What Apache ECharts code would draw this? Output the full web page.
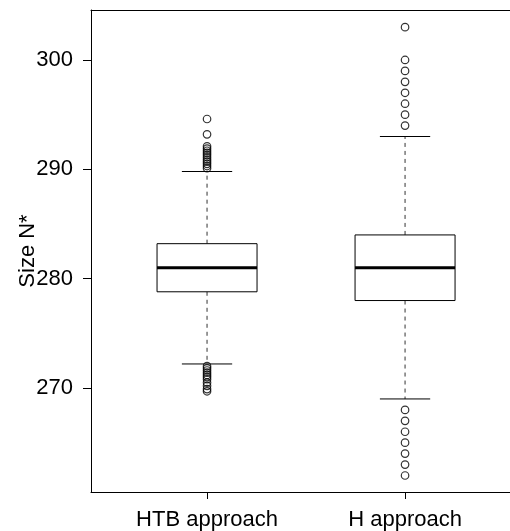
<!DOCTYPE html>
<html>
<head>
<meta charset="utf-8">
<script src="https://cdn.jsdelivr.net/npm/echarts@6/dist/echarts.min.js"></script>
<style>html,body{margin:0;padding:0;background:#fff}#c{width:510px;height:531px}</style>
</head>
<body>
<div id="c"></div>
<script>
var categories = ['HTB approach', 'H approach'];
// [lower whisker, Q1, median, Q3, upper whisker]
var htbStats = [272.2, 278.8, 281.0, 283.2, 289.8];
var hStats = [269, 278, 281, 284, 293];
var htbOutliers = [294.6, 293.2, 292.1, 291.9, 291.7, 291.5, 291.3, 291.1, 290.9, 290.7, 290.5, 290.3, 290.1,
  272.0, 271.8, 271.6, 271.4, 271.2, 271.0, 270.8, 270.5, 270.2, 269.9, 269.7];
var hOutliers = [303, 300, 299, 298, 297, 296, 295, 294, 268, 267, 266, 265, 264, 263, 262];
var yTicks = [270, 280, 290, 300];

var boxData = [[1].concat(htbStats), [2].concat(hStats)];
var outData = htbOutliers.map(function (v) { return [1, v]; })
  .concat(hOutliers.map(function (v) { return [2, v]; }));

var chart = echarts.init(document.getElementById('c'), null, {renderer: 'canvas'});
var fontFam = '"Liberation Sans", Arial, sans-serif';
var boxHalf = 0.2525, capHalf = 0.127;

chart.setOption({
  animation: false,
  grid: {left: 91, top: 10, right: 0, bottom: 39, containLabel: false, outerBoundsMode: 'none'},
  xAxis: [{
    type: 'value', min: 0.414, max: 2.530, position: 'bottom',
    axisLine: {show: true, onZero: false, lineStyle: {color: '#000', width: 1}},
    axisTick: {show: true, customValues: [1, 2], length: 7, inside: false, lineStyle: {color: '#000'}},
    axisLabel: {show: true, customValues: [1, 2], margin: 17, fontSize: 22, fontFamily: fontFam, color: '#000',
      formatter: function (v) { return categories[Math.round(v) - 1] || ''; }},
    splitLine: {show: false}
  }, {
    type: 'value', min: 0.414, max: 2.530, position: 'top',
    axisLine: {show: true, onZero: false, lineStyle: {color: '#000', width: 1}},
    axisTick: {show: false}, axisLabel: {show: false}, splitLine: {show: false}
  }],
  yAxis: {
    type: 'value', min: 260.49, max: 304.57,
    name: 'Size N*', nameLocation: 'middle', nameGap: 52, nameRotate: 90, nameMoveOverlap: false,
    nameTextStyle: {fontSize: 22, fontFamily: fontFam, color: '#000'},
    axisLine: {show: true, onZero: false, lineStyle: {color: '#000', width: 1}},
    axisTick: {show: true, customValues: yTicks, length: 8, lineStyle: {color: '#000'}},
    axisLabel: {show: true, customValues: yTicks, margin: 18, fontSize: 22, fontFamily: fontFam, color: '#000'},
    splitLine: {show: false}
  },
  series: [{
    type: 'custom',
    xAxisIndex: 0,
    data: boxData,
    renderItem: function (params, api) {
      var x = api.value(0);
      var lo = api.value(1), q1 = api.value(2), med = api.value(3), q3 = api.value(4), hi = api.value(5);
      var bl = api.coord([x - boxHalf, q3]);
      var br = api.coord([x + boxHalf, q1]);
      var mL = api.coord([x - boxHalf, med]);
      var mR = api.coord([x + boxHalf, med]);
      var cTop = api.coord([x, q3]);
      var cBot = api.coord([x, q1]);
      var wHi = api.coord([x, hi]);
      var wLo = api.coord([x, lo]);
      var capHL = api.coord([x - capHalf, hi]);
      var capHR = api.coord([x + capHalf, hi]);
      var capLL = api.coord([x - capHalf, lo]);
      var capLR = api.coord([x + capHalf, lo]);
      var dash = {stroke: '#333', lineWidth: 1, lineDash: [4, 4]};
      var solid = {stroke: '#000', lineWidth: 1};
      return {
        type: 'group',
        children: [
          {type: 'line', shape: {x1: cTop[0], y1: cTop[1], x2: wHi[0], y2: wHi[1]}, style: dash},
          {type: 'line', shape: {x1: cBot[0], y1: cBot[1], x2: wLo[0], y2: wLo[1]}, style: dash},
          {type: 'line', shape: {x1: capHL[0], y1: capHL[1], x2: capHR[0], y2: capHR[1]}, style: solid},
          {type: 'line', shape: {x1: capLL[0], y1: capLL[1], x2: capLR[0], y2: capLR[1]}, style: solid},
          {type: 'rect', shape: {x: bl[0], y: bl[1], width: br[0] - bl[0], height: br[1] - bl[1]},
            style: {fill: '#fff', stroke: '#000', lineWidth: 1}},
          {type: 'line', shape: {x1: mL[0], y1: mL[1], x2: mR[0], y2: mR[1]}, style: {stroke: '#000', lineWidth: 3}}
        ]
      };
    }
  }, {
    type: 'scatter',
    xAxisIndex: 0,
    data: outData,
    symbol: 'circle',
    symbolSize: 7.5,
    itemStyle: {color: 'rgba(0,0,0,0)', borderColor: '#000', borderWidth: 1.2}
  }]
});
</script>
</body>
</html>
